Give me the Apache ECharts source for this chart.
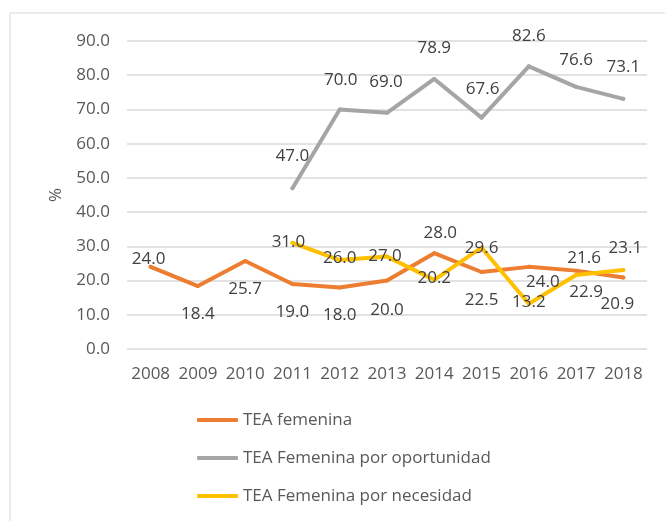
<!DOCTYPE html>
<html>
<head>
<meta charset="utf-8">
<script src="https://cdn.jsdelivr.net/npm/echarts@6/dist/echarts.min.js"></script>
<style>
  html, body { margin: 0; padding: 0; background: #fff; }
  #main { width: 665px; height: 521px; }
</style>
</head>
<body>
<div id="main"></div>
<script>
    // datos
    var years = ['2008', '2009', '2010', '2011', '2012', '2013', '2014', '2015', '2016', '2017', '2018'];
    var teaFemenina = [24.0, 18.4, 25.7, 19.0, 18.0, 20.0, 28.0, 22.5, 24.0, 22.9, 20.9];
    var teaOportunidad = [null, null, null, 47.0, 70.0, 69.0, 78.9, 67.6, 82.6, 76.6, 73.1];
    var teaNecesidad = [null, null, null, 31.0, 26.0, 27.0, 20.2, 29.6, 13.2, 21.6, 23.1];

    // desplazamiento de las etiquetas (px), como en el original
    var offFemenina = [[-2, -8], [0, 28], [0, 28], [0, 28], [0, 28], [0, 30], [6, -20], [0, 28], [14, 15], [10, 22], [-6, 27]];
    var offOportunidad = [null, null, null, [0, -32], [1, -29], [-1, -31], [0, -31], [1, -29], [0, -30], [0, -27], [0, -32]];
    var offNecesidad = [null, null, null, [-4, -1], [0, -2], [-2, 0], [0, -2], [0, 0], [0, -2], [8, -17], [2, -22]];

    var FONT = 'Open Sans';
    var FS = 17;

    function buildData(values, offsets) {
        return values.map(function (v, i) {
            if (v === null) return '-';
            return {
                value: v,
                label: { offset: offsets[i] }
            };
        });
    }

    function makeSeries(name, values, offsets, color) {
        return {
            name: name,
            type: 'line',
            data: buildData(values, offsets),
            symbol: 'circle',
            symbolSize: 4,
            itemStyle: { color: color },
            lineStyle: { color: color, width: 4, cap: 'round', join: 'round' },
            label: {
                show: true,
                position: 'inside',
                color: '#404040',
                fontFamily: FONT,
                fontSize: FS,
                formatter: function (p) { return p.value.toFixed(1); }
            },
            emphasis: { disabled: true }
        };
    }

    var myChart = echarts.init(document.getElementById('main'));
    var option = {
        animation: false,
        backgroundColor: '#fff',
        graphic: [{
            type: 'rect',
            shape: { x: 10, y: 13, width: 680, height: 540 },
            style: { fill: 'none', stroke: '#d9d9d9', lineWidth: 1 },
            silent: true
        }],
        grid: { left: 127, right: 18, top: 41, bottom: 172 },
        legend: {
            orient: 'vertical',
            left: 197,
            top: 410,
            padding: 0,
            itemWidth: 41,
            itemHeight: 4,
            itemGap: 18,
            icon: 'roundRect',
            textStyle: { color: '#595959', fontFamily: FONT, fontSize: FS, lineHeight: 20 },
            data: ['TEA femenina', 'TEA Femenina por oportunidad', 'TEA Femenina por necesidad']
        },
        xAxis: {
            type: 'category',
            data: years,
            axisLine: { show: false },
            axisTick: { show: false },
            axisLabel: { color: '#595959', fontFamily: FONT, fontSize: FS, margin: 17, interval: 0 }
        },
        yAxis: {
            type: 'value',
            min: 0,
            max: 90,
            interval: 10,
            name: '%',
            nameLocation: 'middle',
            nameGap: 62,
            nameRotate: 90,
            nameTextStyle: { color: '#595959', fontFamily: FONT, fontSize: FS },
            axisLabel: {
                color: '#595959', fontFamily: FONT, fontSize: FS, margin: 17,
                formatter: function (v) { return v.toFixed(1); }
            },
            splitLine: { lineStyle: { color: '#d9d9d9', width: 1.5 } }
        },
        series: [
            makeSeries('TEA femenina', teaFemenina, offFemenina, '#ED7D31'),
            makeSeries('TEA Femenina por oportunidad', teaOportunidad, offOportunidad, '#A5A5A5'),
            makeSeries('TEA Femenina por necesidad', teaNecesidad, offNecesidad, '#FFC000')
        ]
    };
    myChart.setOption(option);
</script>
</body>
</html>
